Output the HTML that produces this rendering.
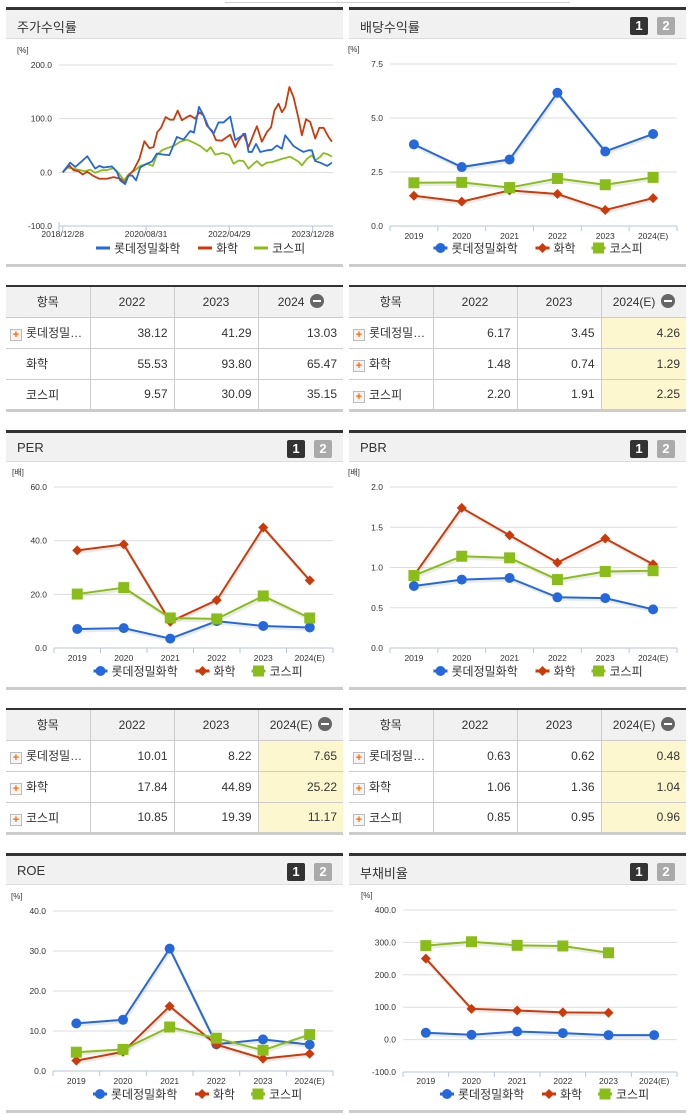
<!DOCTYPE html>
<html><head><meta charset="utf-8">
<style>
*{margin:0;padding:0;box-sizing:border-box}
body{width:691px;height:1115px;background:#fff;position:relative;overflow:hidden;font-family:"Liberation Sans","Noto Sans CJK KR",sans-serif;color:#333}
.hdr{position:absolute;background:#f1f1f1;border-top:3px solid #333;border-bottom:1px solid #ddd;height:32px}
.hdr .t{position:absolute;left:11px;top:7px;font-size:13px;color:#333}
.b1,.b2{position:absolute;top:7px;width:18px;height:18px;font:bold 13px "Liberation Sans",sans-serif;color:#fff;text-align:center;line-height:18px;border-radius:2px}
.b1{background:#333}.b2{background:#aaa}
.bot{position:absolute;height:3px;background:#ccc}
table{position:absolute;border-collapse:collapse;font-size:12px;table-layout:fixed;border-top:2px solid #333;border-bottom:3px solid #ccc}
td,th{border-left:1px solid #ccc;border-right:1px solid #ccc;border-bottom:1px solid #ccc;height:31px;font-weight:normal;padding:0 6px;white-space:nowrap;overflow:hidden}
th{background:#f1f1f1;text-align:center}
td{text-align:right}
td.n{text-align:left;padding-left:4px}
td.hl{background:#fdf7cf}
tr>*:first-child{border-left:none}tr>*:last-child{border-right:none}
.pl{display:inline-block;width:12px;height:12px;border:1px solid #bbb;background:#f4f4f4;color:#f60;font-size:11px;line-height:10px;text-align:center;font-weight:bold;vertical-align:-1px;margin-right:4px}
.mi{display:inline-block;width:14px;height:14px;border-radius:7px;background:#666;vertical-align:-2px;position:relative;margin-left:2px}
.mi:after{content:"";position:absolute;left:3px;top:6px;width:8px;height:2px;background:#fff}
.sp{display:inline-block;width:16px}
</style></head><body>
<div style="position:absolute;left:225px;top:0;width:345px;height:3px;border-bottom:1px solid #ccc"></div>

<div class="hdr" style="left:6px;top:7px;width:337px"><span class="t">주가수익률</span></div>
<div class="hdr" style="left:349px;top:7px;width:337px"><span class="t">배당수익률</span><span class="b1" style="left:281px">1</span><span class="b2" style="left:308px">2</span></div>
<div class="hdr" style="left:6px;top:430px;width:337px"><span class="t">PER</span><span class="b1" style="left:281px">1</span><span class="b2" style="left:308px">2</span></div>
<div class="hdr" style="left:349px;top:430px;width:337px"><span class="t">PBR</span><span class="b1" style="left:281px">1</span><span class="b2" style="left:308px">2</span></div>
<div class="hdr" style="left:6px;top:853px;width:337px"><span class="t">ROE</span><span class="b1" style="left:281px">1</span><span class="b2" style="left:308px">2</span></div>
<div class="hdr" style="left:349px;top:853px;width:337px"><span class="t">부채비율</span><span class="b1" style="left:281px">1</span><span class="b2" style="left:308px">2</span></div>

<div class="bot" style="left:6px;top:264px;width:337px"></div>
<div class="bot" style="left:349px;top:264px;width:337px"></div>
<div class="bot" style="left:6px;top:687px;width:337px"></div>
<div class="bot" style="left:349px;top:687px;width:337px"></div>
<div class="bot" style="left:6px;top:1110px;width:337px"></div>
<div class="bot" style="left:349px;top:1110px;width:337px"></div>

<table style="left:6px;top:285px;width:337px">
<colgroup><col style="width:84px"><col style="width:84px"><col style="width:84px"><col style="width:85px"></colgroup>
<tr><th>항목</th><th>2022</th><th>2023</th><th>2024 <span class="mi"></span></th></tr>
<tr><td class="n"><span class="pl">+</span>롯데정밀…</td><td>38.12</td><td>41.29</td><td>13.03</td></tr>
<tr><td class="n"><span class="sp"></span>화학</td><td>55.53</td><td>93.80</td><td>65.47</td></tr>
<tr><td class="n"><span class="sp"></span>코스피</td><td>9.57</td><td>30.09</td><td>35.15</td></tr>
</table>
<table style="left:349px;top:285px;width:337px">
<colgroup><col style="width:84px"><col style="width:84px"><col style="width:84px"><col style="width:85px"></colgroup>
<tr><th>항목</th><th>2022</th><th>2023</th><th>2024(E) <span class="mi"></span></th></tr>
<tr><td class="n"><span class="pl">+</span>롯데정밀…</td><td>6.17</td><td>3.45</td><td class="hl">4.26</td></tr>
<tr><td class="n"><span class="pl">+</span>화학</td><td>1.48</td><td>0.74</td><td class="hl">1.29</td></tr>
<tr><td class="n"><span class="pl">+</span>코스피</td><td>2.20</td><td>1.91</td><td class="hl">2.25</td></tr>
</table>
<table style="left:6px;top:708px;width:337px">
<colgroup><col style="width:84px"><col style="width:84px"><col style="width:84px"><col style="width:85px"></colgroup>
<tr><th>항목</th><th>2022</th><th>2023</th><th>2024(E) <span class="mi"></span></th></tr>
<tr><td class="n"><span class="pl">+</span>롯데정밀…</td><td>10.01</td><td>8.22</td><td class="hl">7.65</td></tr>
<tr><td class="n"><span class="pl">+</span>화학</td><td>17.84</td><td>44.89</td><td class="hl">25.22</td></tr>
<tr><td class="n"><span class="pl">+</span>코스피</td><td>10.85</td><td>19.39</td><td class="hl">11.17</td></tr>
</table>
<table style="left:349px;top:708px;width:337px">
<colgroup><col style="width:84px"><col style="width:84px"><col style="width:84px"><col style="width:85px"></colgroup>
<tr><th>항목</th><th>2022</th><th>2023</th><th>2024(E) <span class="mi"></span></th></tr>
<tr><td class="n"><span class="pl">+</span>롯데정밀…</td><td>0.63</td><td>0.62</td><td class="hl">0.48</td></tr>
<tr><td class="n"><span class="pl">+</span>화학</td><td>1.06</td><td>1.36</td><td class="hl">1.04</td></tr>
<tr><td class="n"><span class="pl">+</span>코스피</td><td>0.85</td><td>0.95</td><td class="hl">0.96</td></tr>
</table>

<svg id="charts" width="691" height="1115" style="position:absolute;left:0;top:0" xmlns="http://www.w3.org/2000/svg"></svg>

<script>
const stockTicks = ["2018/12/28","2020/08/31","2022/04/29","2023/12/28"];
const stockTickMonths = [0,20,40,60];
const lotteMonths = [0,1.8,3.0,4.2,5.9,7.8,8.8,9.8,11.8,13.0,13.8,15.0,15.8,16.7,17.6,18.6,20.2,21.4,22.6,24.2,25.6,27.4,29.0,30.6,31.5,32.7,33.8,35.0,36.2,37.4,38.6,40.2,41.4,42.6,43.8,44.6,45.4,46.4,47.4,49.0,50.2,51.4,52.6,53.4,55.4,56.6,57.8,59.0,59.8,60.6,61.8,63.5,64.6];
const lotteReturns = [0,18,10,18,30,7,12,9,11,1,-15,-22,-6,-6,-15,9,16,20,35,33,32,66,61,77,74,122,106,84,72,93,93,104,60,66,72,38,38,53,38,41,42,50,44,69,49,43,38,41,41,21,18,12,18];
const chemMonths = [0,1.6,2.6,3.8,4.8,5.9,7.2,8.8,10.6,12.2,13.9,14.8,15.8,17.0,18.4,19.6,20.8,21.8,22.7,23.6,24.7,25.8,26.6,27.6,28.6,29.6,30.6,31.8,32.8,33.8,34.6,35.8,36.8,38.2,40.2,41.4,42.2,43.4,44.6,45.4,46.6,47.8,49.0,50.0,50.8,51.8,52.6,53.4,54.4,55.4,56.6,57.4,58.4,59.4,60.6,61.6,62.6,63.8,64.6];
const chemReturns = [0,13,4,2,-4,1,-6,-12,-12,-9,-12,-20,-6,4,25,58,45,47,75,83,103,98,98,115,97,102,106,100,112,106,87,78,60,59,70,47,59,72,47,63,86,57,75,84,115,128,112,121,159,140,100,69,99,94,63,83,83,66,57];
const kospiMonths = [0,1.0,2.6,4.2,5.4,6.6,7.8,9.4,10.6,12.2,13.4,14.7,15.8,17.4,18.6,20.2,21.6,22.6,23.8,25.0,26.6,28.2,29.8,31.5,33.0,34.6,35.5,36.6,38.4,40.0,41.0,42.2,43.4,44.6,45.8,46.6,47.8,49.0,50.2,51.4,52.6,54.6,56.6,57.4,58.6,59.8,60.6,61.8,62.6,63.8,64.6];
const kospiReturns = [0,9,7,4,2,5,-1,4,4,8,-1,-15,-4,4,12,16,12,32,41,45,49,57,61,55,49,39,47,33,36,32,16,22,21,7,16,21,12,18,19,22,25,29,20,13,25,32,22,29,36,33,29];
const stockYTicks = [-100,0,100,200];

const years = ["2019","2020","2021","2022","2023","2024(E)"];
const divLotte = [3.78,2.73,3.08,6.17,3.45,4.26];
const divChem = [1.40,1.13,1.65,1.48,0.74,1.29];
const divKospi = [2.00,2.02,1.78,2.20,1.91,2.25];
const divTicks = [0,2.5,5,7.5];
const perLotte = [7.1,7.4,3.5,10.01,8.22,7.65];
const perChem = [36.4,38.6,9.8,17.84,44.89,25.22];
const perKospi = [20.1,22.5,11.2,10.85,19.39,11.17];
const perTicks = [0,20,40,60];
const pbrLotte = [0.77,0.85,0.87,0.63,0.62,0.48];
const pbrChem = [0.90,1.74,1.40,1.06,1.36,1.04];
const pbrKospi = [0.90,1.14,1.12,0.85,0.95,0.96];
const pbrTicks = [0,0.5,1,1.5,2];
const roeLotte = [11.9,12.8,30.6,6.7,7.9,6.6];
const roeChem = [2.6,4.8,16.2,6.6,3.1,4.3];
const roeKospi = [4.7,5.4,11.0,8.2,5.2,9.1];
const roeTicks = [0,10,20,30,40];
const debtLotte = [21,15,25,20,14,14];
const debtChem = [250,95,90,84,83,null];
const debtKospi = [290,302,291,289,268,null];
const debtTicks = [-100,0,100,200,300,400];

const BLUE="#2468dc", RED="#cc3a0a", GREEN="#8abd1a";
const NS="http://www.w3.org/2000/svg";
const svg=document.getElementById('charts');
function mk(tag,attrs,parent){const e=document.createElementNS(NS,tag);for(const k in attrs)e.setAttribute(k,attrs[k]);(parent||svg).appendChild(e);return e;}
function txt(x,y,s,size,anchor,parent,color){const t=mk('text',{x:x,y:y,'font-size':size,'text-anchor':anchor||'start',fill:color||'#333','font-family':'"Liberation Sans","Noto Sans CJK KR",sans-serif'},parent);t.textContent=s;return t;}

function frame(g,x0,x1,yTop,yBot,min,max,ticks,fmt,unit){
  const ys=v=>yBot-(v-min)/(max-min)*(yBot-yTop);
  txt(x0-42,yTop-12,unit,8,'start',g);
  ticks.forEach(v=>{
    const gl=mk('line',{x1:x0,x2:x1,y1:ys(v),y2:ys(v),stroke:'#ddd','stroke-width':1},g);
    
    
    const t=txt(x0-7,ys(v)+3,fmt(v),8.5,'end',g);
    
    
  });
  return ys;
}
function legend(g,cx,y,markers){
  const items=[["롯데정밀화학",BLUE,'circle'],["화학",RED,'diamond'],["코스피",GREEN,'square']];
  const widths=[92,46,52];let x=cx-95;
  items.forEach((it,i)=>{
    const lg=mk('g',{},g);
    
    
    mk('line',{x1:x,x2:x+14,y1:y,y2:y,stroke:it[1],'stroke-width':3},lg);
    if(markers)marker(lg,x+7,y,it[2],it[1]);
    txt(x+18,y+4.5,it[0],12,'start',lg);
    x+=widths[i]+10;
  });
}
function marker(g,x,y,shape,c){
  if(shape==='circle')mk('circle',{cx:x,cy:y,r:5,fill:c},g);
  else if(shape==='square')mk('rect',{x:x-5.5,y:y-5.5,width:11,height:11,fill:c},g);
  else mk('path',{d:`M${x} ${y-5}L${x+5} ${y}L${x} ${y+5}L${x-5} ${y}Z`,fill:c},g);
}
function catChart(name,x0,x1,yTop,yBot,min,max,ticks,fmt,unit,series,labelY,legendY){
  const g=mk('g',{});
  
  
  const ys=frame(g,x0,x1,yTop,yBot,min,max,ticks,fmt,unit);
  const n=years.length,w=(x1-x0)/n;
  const xs=i=>x0+(i+0.5)*w;
  mk('line',{x1:x0,x2:x1,y1:yBot,y2:yBot,stroke:'#b8c6d6','stroke-width':1},g);
  for(let i=0;i<=n;i++)mk('line',{x1:x0+i*w,x2:x0+i*w,y1:yBot,y2:yBot+5,stroke:'#b8c6d6'},g);
  years.forEach((y,i)=>{const t=txt(xs(i),labelY,y,8.5,'middle',g);
    
    });
  series.forEach(s=>{
    const pts=[];s.vals.forEach((v,i)=>{if(v!==null)pts.push([xs(i),ys(v)]);});
    mk('polyline',{points:pts.map(p=>(p[0]+1)+','+(p[1]+2)).join(' '),fill:'none',stroke:'#000','stroke-opacity':0.08,'stroke-width':3},g);
    const pl=mk('polyline',{points:pts.map(p=>p.join(',')).join(' '),fill:'none',stroke:s.c,'stroke-width':2},g);
    
    
    pts.forEach(p=>{const m=mk('g',{},g);
      
      
      marker(m,p[0],p[1],s.shape,s.c);});
  });
  legend(g,(x0+x1)/2-5,legendY,true);
}
const f1=v=>v.toFixed(1);
const S=(a,b,c)=>[{name:'lotte',vals:a,c:BLUE,shape:'circle'},{name:'chem',vals:b,c:RED,shape:'diamond'},{name:'kospi',vals:c,c:GREEN,shape:'square'}];
catChart('dividend-chart',390,677,64,226,0,7.5,divTicks,f1,'[%]',S(divLotte,divChem,divKospi),239,248);
catChart('per-chart',54,333,487,648,0,60,perTicks,f1,'[배]',S(perLotte,perChem,perKospi),661,671);
catChart('pbr-chart',390,677,487,648,0,2,pbrTicks,f1,'[배]',S(pbrLotte,pbrChem,pbrKospi),661,671);
catChart('roe-chart',53,333,911,1071,0,40,roeTicks,f1,'[%]',S(roeLotte,roeChem,roeKospi),1084,1094);
catChart('debt-chart',403,677,910,1072,-100,400,debtTicks,f1,'[%]',S(debtLotte,debtChem,debtKospi),1084,1094);

(function(){
  const g=mk('g',{});
  
  
  const x0=59,x1=333,yTop=65,yBot=226;
  const ys=frame(g,x0,x1,yTop,yBot,-100,200,stockYTicks,f1,'[%]');
  const xm=m=>62.7+m*4.167;
  mk('line',{x1:x0,x2:x1,y1:yBot,y2:yBot,stroke:'#b8c6d6'},g);
  mk('line',{x1:x0,x2:x0,y1:yBot-4,y2:yBot+5,stroke:'#b8c6d6'},g);
  stockTickMonths.forEach((m,i)=>{
    mk('line',{x1:xm(m),x2:xm(m),y1:yBot,y2:yBot+5,stroke:'#b8c6d6'},g);
    const t=txt(xm(m),yBot+11,stockTicks[i],8.5,'middle',g);
    
    
  });
  [[kospiMonths,kospiReturns,GREEN,'kospi'],[chemMonths,chemReturns,RED,'chem'],[lotteMonths,lotteReturns,BLUE,'lotte']].forEach(s=>{
    const pts=s[0].map((m,i)=>xm(m)+','+ys(s[1][i])).join(' ');
    const pl=mk('polyline',{points:pts,fill:'none',stroke:s[2],'stroke-width':1.8,'stroke-linejoin':'round'},g);
    
    
  });
  legend(g,(x0+x1)/2-5,248,false);
})();
</script>
</body></html>
